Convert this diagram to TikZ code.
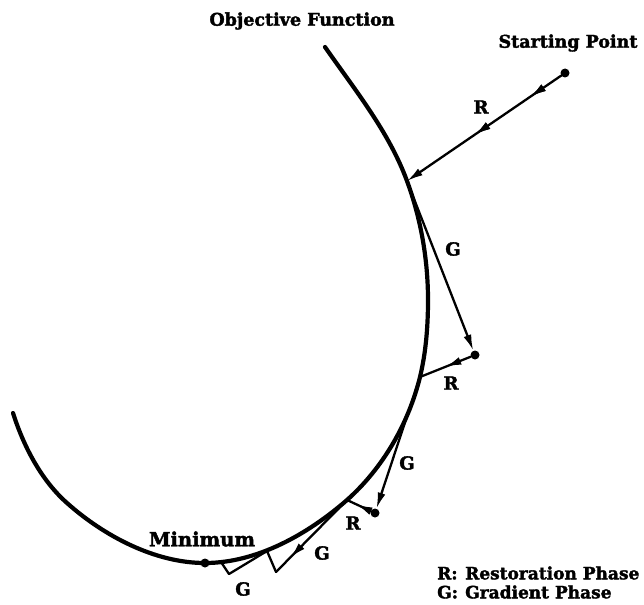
\documentclass[tikz,border=0pt]{standalone}
\usepackage{fontspec}
\setmainfont{DejaVu Serif}[BoldFeatures={FakeBold=2}]
\usetikzlibrary{arrows.meta,decorations.markings}
\begin{document}
\begin{tikzpicture}[x=1pt,y=-1pt,
  headtip/.tip={Latex[length=16pt,width=8pt]},
  curvepath/.style={line width=4.2pt,line cap=round,line join=round},
  phasepath/.style={line width=2.3pt,line cap=round},
  endarrow/.style={phasepath,-{headtip}},
  midarrow/.style={postaction={decorate},
    decoration={markings,mark=at position #1 with {\arrow{headtip}}}},
  dotnode/.style={circle,fill=black,inner sep=0pt,minimum size=9pt},
  lbl/.style={font=\bfseries\fontsize{18}{20}\selectfont,inner sep=0pt},
  title/.style={font=\bfseries\fontsize{17.5}{20}\selectfont,inner sep=0pt},
  mintitle/.style={font=\bfseries\fontsize{19.5}{22}\selectfont,inner sep=0pt},
  legend/.style={font=\bfseries\fontsize{17}{20}\selectfont,inner sep=0pt,anchor=west}
]
\useasboundingbox (0,0) rectangle (644,604);

% objective function curve
\draw[curvepath] (325,47) .. controls (355,90) and (389,132) .. (407,181)
  .. controls (421,219) and (428,260) .. (428,300)
  .. controls (428,326) and (426,352) .. (420,377)
  .. controls (408.5,423.5) and (383,468) .. (347,500)
  .. controls (308,534) and (257,563) .. (205,563)
  .. controls (155,563) and (104,536) .. (67,503)
  .. controls (41,480) and (23.5,446) .. (13,413);

% junctions on the curve
\coordinate (j1) at (407,181);
\coordinate (j2) at (420,377);
\coordinate (j3) at (347,500);
\coordinate (j4) at (267,551);
\coordinate (j5) at (221,562);
\coordinate (c3) at (276,572);
\coordinate (c4) at (229,574);

% points
\node[dotnode] (start) at (565,73) {};
\node[dotnode] (p1) at (475,355) {};
\node[dotnode] (p2) at (375,513) {};
\node[dotnode] (min) at (205,563) {};

% phases
\draw[endarrow,midarrow=0.2,midarrow=0.56] (start) -- (j1);
\draw[endarrow] (j1) -- (p1);
\draw[phasepath,midarrow=0.5] (p1) -- (j2);
\draw[endarrow] (j2) -- (p2);
\draw[phasepath,midarrow=0.6] (p2) -- (j3);
\draw[phasepath,midarrow=0.8] (j3) -- (c3);
\draw[phasepath] (c3) -- (j4);
\draw[phasepath] (j4) -- (c4);
\draw[phasepath] (c4) -- (j5);

% labels
\node[title] (tobj) at (302,21) {Objective Function};
\node[title] (tstart) at (568,43) {Starting Point};
\node[mintitle] (tmin) at (202,539) {Minimum};
\node[lbl] (lr1) at (481,107) {R};
\node[lbl] (lg1) at (453,249) {G};
\node[lbl] (lr2) at (451,383) {R};
\node[lbl] (lg2) at (407,463) {G};
\node[lbl] (lr3) at (353,523) {R};
\node[lbl] (lg3) at (322,553) {G};
\node[lbl] (lg4) at (243,589) {G};

% legend
\node[legend] (legr) at (437,573) {\makebox[28pt][l]{R:}Restoration Phase};
\node[legend] (legg) at (437,592) {\makebox[28pt][l]{G:}Gradient Phase};
\end{tikzpicture}
\end{document}
